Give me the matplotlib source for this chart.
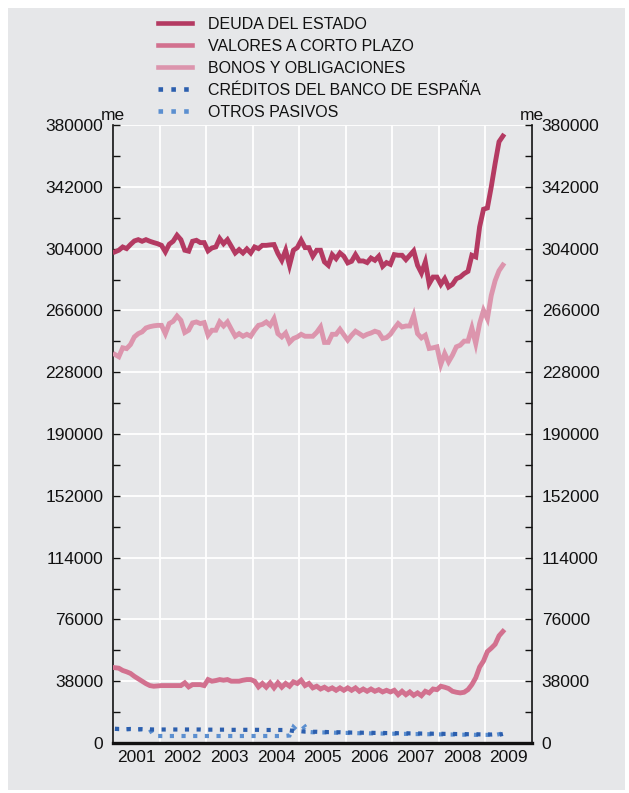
import numpy as np
import matplotlib.pyplot as plt
from matplotlib.patches import Rectangle
from matplotlib.ticker import MultipleLocator, FixedLocator, NullFormatter, FixedFormatter

plt.rcParams['font.family'] = ['Liberation Sans', 'DejaVu Sans']

# ---------------- data (monthly, Jan 2001 - May 2009, millones de euros) ----------------
start_year = 2001
year_labels = ['2001', '2002', '2003', '2004', '2005', '2006', '2007', '2008', '2009']
y_ticks = [0, 38000, 76000, 114000, 152000, 190000, 228000, 266000, 304000, 342000, 380000]

series_names = ['DEUDA DEL ESTADO', 'VALORES A CORTO PLAZO', 'BONOS Y OBLIGACIONES',
                'CRÉDITOS DEL BANCO DE ESPAÑA', 'OTROS PASIVOS']

deuda = [
    302000, 303000, 305000, 304000, 306500, 308700, 309500, 308500, 309500, 308500, 307700, 307000,  # 2001
    306000, 302000, 306700, 308500, 312200, 309500, 303000, 302400, 308500, 309100, 307700, 307700,  # 2002
    302600, 304400, 305000, 310200, 307000, 309500, 305400, 301300, 303400, 301300, 303800, 301300,  # 2003
    305000, 304000, 306000, 306000, 306300, 306500, 301000, 296800, 303000, 293700, 303000, 304600,  # 2004
    309100, 304600, 304600, 299300, 303000, 303000, 295800, 293700, 300300, 297800, 301300, 299300,  # 2005
    295200, 296200, 300300, 296400, 296400, 295400, 298200, 296800, 299300, 293100, 295400, 294300,  # 2006
    300300, 299900, 299900, 297200, 299900, 302600, 293700, 289000, 295800, 282400, 286500, 286500,  # 2007
    282000, 285500, 280400, 282000, 285500, 286500, 288600, 290000, 299900, 298900, 317400, 328200,  # 2008
    329000, 342000, 356400, 369700, 373200,                                                          # 2009
]

valores = [
    46300, 46000, 44600, 43800, 42800, 41000, 39500, 38000, 36500, 35300, 34900, 35100,  # 2001
    35300, 35300, 35300, 35300, 35300, 35300, 37000, 34500, 35900, 35900, 35900, 35300,  # 2002
    39000, 38000, 38400, 39000, 38600, 39000, 38000, 38000, 38000, 38600, 39000, 39000,  # 2003
    38000, 34500, 36600, 34300, 37000, 33900, 37000, 34300, 36600, 34900, 37600, 36600,  # 2004
    38600, 35300, 36600, 33900, 34900, 33200, 34300, 32800, 33900, 32400, 33900, 32400,  # 2005
    33900, 32400, 33900, 31800, 33200, 31800, 33200, 31800, 32800, 31400, 32400, 31400,  # 2006
    32400, 29700, 31800, 29700, 31400, 29300, 30800, 29100, 31800, 30800, 33200, 32800,  # 2007
    34900, 34300, 33500, 31800, 31200, 30800, 31200, 32800, 35900, 40100, 46700, 50400,  # 2008
    56200, 58300, 60700, 65900, 68600,                                                   # 2009
]

bonos = [
    238900, 237500, 243000, 242500, 245000, 249700, 251700, 252800, 255200, 256000, 256500, 256800,  # 2001
    256800, 251700, 257900, 259300, 262500, 259900, 252400, 253800, 258300, 258900, 257900, 258500,  # 2002
    250700, 253800, 253800, 258900, 256400, 258900, 254400, 250100, 251700, 250100, 251300, 250100,  # 2003
    253800, 256800, 257400, 258900, 256800, 260900, 251700, 249700, 252100, 246300, 248700, 249700,  # 2004
    251300, 250100, 250100, 250100, 252500, 255800, 246300, 246300, 251300, 251300, 254400, 251000,  # 2005
    247700, 250700, 253200, 251700, 250100, 251300, 252100, 253200, 252400, 248700, 249300, 251300,  # 2006
    254800, 257900, 255800, 256400, 256400, 262900, 251700, 249100, 250700, 242600, 243000, 243600,  # 2007
    232800, 239500, 234400, 238500, 243600, 244600, 247100, 247100, 255200, 245600, 257900, 266000,  # 2008
    260900, 275200, 284300, 290400, 293900,                                                          # 2009
]

creditos = [
    8700, 8600, 8600, 8500, 8600, 8500, 8400, 8500, 8400, 8400, 8300, 8300,  # 2001
    8300, 8300, 8300, 8300, 8300, 8300, 8300, 8300, 8300, 8300, 8300, 8200,  # 2002
    8200, 8200, 8200, 8200, 8200, 8200, 8100, 8100, 8100, 8100, 8100, 8100,  # 2003
    8100, 8100, 8000, 8000, 8000, 8000, 8000, 8000, 8000, 7800, 7400, 7000,  # 2004
    7200, 7000, 7000, 6900, 6900, 6800, 6800, 6700, 6700, 6600, 6600, 6500,  # 2005
    6500, 6400, 6400, 6400, 6300, 6300, 6300, 6200, 6200, 6200, 6100, 6100,  # 2006
    6100, 6000, 6000, 6000, 5900, 5900, 5900, 5800, 5800, 5800, 5700, 5700,  # 2007
    5700, 5600, 5600, 5600, 5500, 5500, 5500, 5400, 5400, 5400, 5300, 5300,  # 2008
    5300, 5200, 5400, 5000, 5600,                                            # 2009
]

otros = [
    8700, 8600, 8600, 8500, 8600, 8500, 8400, 8500, 8400, 8300, 4500, 4300,   # 2001
    4300, 4300, 4300, 4300, 4300, 4300, 4300, 4300, 4300, 4300, 4300, 4300,   # 2002
    4300, 4300, 4300, 4300, 4300, 4300, 4300, 4300, 4300, 4300, 4300, 4300,   # 2003
    4300, 4300, 4300, 4300, 4300, 4300, 4300, 4300, 4400, 4600, 9800, 7500,   # 2004
    8000, 10000, 6800, 6600, 6600, 6500, 6500, 6400, 6400, 6300, 6300, 6200,  # 2005
    6200, 6100, 6100, 6000, 6000, 6000, 5900, 5900, 5900, 5800, 5800, 5700,   # 2006
    5700, 5700, 5600, 5600, 5600, 5500, 5500, 5500, 5400, 5400, 5400, 5300,   # 2007
    5300, 5300, 5200, 5200, 5200, 5100, 5100, 5100, 5100, 5000, 5000, 5000,   # 2008
    5000, 5200, 4900, 5400, 6000,                                             # 2009
]

# ---------------- styling ----------------
BG = '#e6e7e9'
C_DEUDA = '#b43a62'
C_VALORES = '#d2718f'
C_BONOS = '#dc95ad'
C_CRED = '#2c5fae'
C_OTROS = '#5b8fd0'

W, H, DPI = 629, 793, 100
fig = plt.figure(figsize=(W / DPI, H / DPI), dpi=DPI, facecolor='white')
fig.patches.append(Rectangle((8 / W, 3 / H), (625 - 8) / W, (785 - 3) / H,
                             transform=fig.transFigure, facecolor=BG, edgecolor='none', zorder=-10))

ax = fig.add_axes([113 / W, (H - 743) / H, (532 - 113) / W, (743 - 125) / H])
ax.set_facecolor(BG)

x = start_year + (np.arange(len(deuda)) + 0.5) / 12.0
lw = 3.5
dot_lw = 3.0

l1, = ax.plot(x, deuda, color=C_DEUDA, lw=lw, solid_joinstyle='miter', zorder=5)
l2, = ax.plot(x, valores, color=C_VALORES, lw=lw, solid_joinstyle='miter', zorder=4)
l3, = ax.plot(x, bonos, color=C_BONOS, lw=lw, solid_joinstyle='miter', zorder=4)
l4, = ax.plot(x, creditos, color=C_CRED, lw=dot_lw, linestyle=(0, (1.0, 1.8)),
              dash_capstyle='butt', zorder=4)
l5, = ax.plot(x, otros, color=C_OTROS, lw=dot_lw, linestyle=(0, (1.0, 1.8)),
              dash_capstyle='butt', dash_joinstyle='miter', zorder=3)

ax.set_xlim(start_year, start_year + len(year_labels))
ax.set_ylim(0, 380000)

# grid: year boundaries & major y values
ax.xaxis.set_major_locator(FixedLocator(np.arange(start_year, start_year + len(year_labels) + 1)))
ax.xaxis.set_major_formatter(NullFormatter())
ax.xaxis.set_minor_locator(FixedLocator(np.arange(len(year_labels)) + start_year + 0.5))
ax.xaxis.set_minor_formatter(FixedFormatter(year_labels))
ax.tick_params(axis='x', which='both', length=0, pad=5, labelsize=12.5, colors='#111111')

ax.yaxis.set_major_locator(FixedLocator(y_ticks))
ax.yaxis.set_minor_locator(MultipleLocator(19000))
ax.yaxis.set_major_formatter(FixedFormatter([str(v) for v in y_ticks]))
ax.tick_params(axis='y', which='both', direction='in', length=5, width=1.0,
               left=True, right=True, labelleft=True, labelright=True,
               labelsize=12.5, colors='#111111')
ax.tick_params(axis='y', which='major', pad=7)

ax.grid(True, which='major', color='white', lw=1.3, zorder=0)
ax.set_axisbelow(True)

ax.spines['top'].set_visible(False)
ax.spines['left'].set_linewidth(1.2)
ax.spines['right'].set_linewidth(1.2)
ax.spines['bottom'].set_linewidth(2.4)
for s in ['left', 'right', 'bottom']:
    ax.spines[s].set_color('#111111')

# unit labels
ax.text(0.0, 1.003, 'me', transform=ax.transAxes, ha='center', va='bottom', fontsize=12.5, color='#111111')
ax.text(1.0, 1.003, 'me', transform=ax.transAxes, ha='center', va='bottom', fontsize=12.5, color='#111111')

# legend
leg = fig.legend([l1, l2, l3, l4, l5], series_names, loc='upper left',
                 bbox_to_anchor=(158 / W, 1 - 17 / H), frameon=False, fontsize=11.55,
                 handlelength=2.15, handletextpad=0.97, labelspacing=0.43,
                 borderpad=0, borderaxespad=0)
for h in leg.legend_handles:
    h.set_linewidth(3.3)
for t in leg.get_texts():
    t.set_color('#111111')

fig.savefig('out.png', dpi=DPI, facecolor='white')
